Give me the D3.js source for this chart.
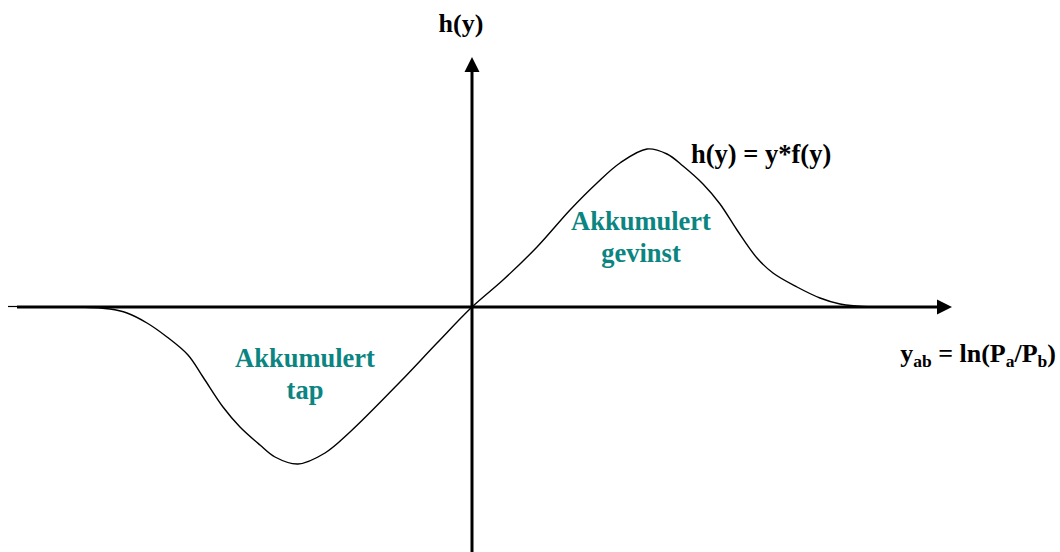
<!DOCTYPE html>
<html>
<head>
<meta charset="utf-8">
<script src="https://cdn.jsdelivr.net/npm/d3@7"></script>
<style>
  html, body { margin: 0; padding: 0; background: #fff; }
  svg { display: block; }
</style>
</head>
<body>
<svg id="chart" width="1060" height="552"></svg>
<script>
// h(y) = y * f(y), sampled along the y axis (left tail, trough, zero, peak, right tail)
const yValues = [-4.40, -3.92, -3.62, -3.45, -3.25, -3.05, -2.84, -2.69, -2.49, -2.32, -2.12, -1.97,
                 -1.74, -1.47, -1.22, -0.72, -0.35, 0.00, 0.31, 0.65, 0.98, 1.25, 1.48, 1.75,
                 1.95, 2.11, 2.31, 2.48, 2.65, 2.85, 3.01, 3.25, 3.48, 3.68, 4.01, 4.10];
const hValues = [0.00, 0.00, -0.02, -0.06, -0.16, -0.30, -0.48, -0.70, -1.00, -1.20, -1.38, -1.50,
                 -1.57, -1.46, -1.25, -0.75, -0.36, 0.00, 0.27, 0.60, 0.97, 1.24, 1.44, 1.58,
                 1.53, 1.41, 1.23, 1.03, 0.77, 0.49, 0.34, 0.20, 0.09, 0.03, 0.00, 0.00];

// Axis extents in data units
const xAxisDomain = [-4.55, 4.68];
const yAxisDomain = [-2.45, 2.50];

const serif = "'Liberation Serif', 'Times New Roman', Tinos, 'DejaVu Serif', serif";

const svg = d3.select("#chart");

const x = d3.scaleLinear().domain(xAxisDomain).range([17, 940]);
const y = d3.scaleLinear().domain(yAxisDomain).range([552, 57]);

const teal = "#0b8581";

// horizontal axis with arrow head
const x0 = x(0), y0 = y(0);
svg.append("line")
  .attr("x1", 8).attr("x2", x(xAxisDomain[0]))
  .attr("y1", y0 - 0.5).attr("y2", y0 - 0.5)
  .attr("stroke", "#000").attr("stroke-width", 1.2);
svg.append("line")
  .attr("x1", x(xAxisDomain[0])).attr("x2", x(xAxisDomain[1]) + 1)
  .attr("y1", y0).attr("y2", y0)
  .attr("stroke", "#000").attr("stroke-width", 3);
svg.append("path")
  .attr("d", `M${x(xAxisDomain[1]) - 3},${y0 - 7.5} L${x(xAxisDomain[1]) + 12},${y0} L${x(xAxisDomain[1]) - 3},${y0 + 7.5} Z`)
  .attr("fill", "#000");

// vertical axis with arrow head
svg.append("line")
  .attr("x1", x0).attr("x2", x0)
  .attr("y1", y(yAxisDomain[0])).attr("y2", y(yAxisDomain[1]) + 14)
  .attr("stroke", "#000").attr("stroke-width", 3);
svg.append("path")
  .attr("d", `M${x0 - 7.5},${y(yAxisDomain[1]) + 15} L${x0},${y(yAxisDomain[1])} L${x0 + 7.5},${y(yAxisDomain[1]) + 15} Z`)
  .attr("fill", "#000");

// the curve
const pts = yValues.map((v, i) => [v, hValues[i]]);
const line = d3.line()
  .x(d => x(d[0]))
  .y(d => y(d[1]))
  .curve(d3.curveCatmullRom.alpha(0.5));
svg.append("path")
  .datum(pts)
  .attr("d", line)
  .attr("fill", "none")
  .attr("stroke", "#000")
  .attr("stroke-width", 1.4);

function label(xp, yp, size, fill) {
  return svg.append("text")
    .attr("x", xp).attr("y", yp)
    .attr("font-family", serif)
    .attr("font-weight", "bold")
    .attr("font-size", size)
    .attr("fill", fill || "#000");
}

// axis titles
label(461, 32, 26).attr("text-anchor", "middle").text("h(y)");
label(691, 163, 26.5).text("h(y) = y*f(y)");

const xt = label(1056, 362, 26).attr("text-anchor", "end");
xt.append("tspan").text("y");
xt.append("tspan").attr("font-size", 17.5).attr("dy", 5).text("ab");
xt.append("tspan").attr("dy", -5).text(" = ln(P");
xt.append("tspan").attr("font-size", 17.5).attr("dy", 5).text("a");
xt.append("tspan").attr("dy", -5).text("/P");
xt.append("tspan").attr("font-size", 17.5).attr("dy", 5).text("b");
xt.append("tspan").attr("dy", -5).text(")");

// area annotations
const gain = label(641, 230, 26.5, teal).attr("text-anchor", "middle");
gain.append("tspan").attr("x", 641).text("Akkumulert");
gain.append("tspan").attr("x", 641).attr("dy", 32).text("gevinst");

const loss = label(305, 367, 26.5, teal).attr("text-anchor", "middle");
loss.append("tspan").attr("x", 305).text("Akkumulert");
loss.append("tspan").attr("x", 305).attr("dy", 32).text("tap");
</script>
</body>
</html>
